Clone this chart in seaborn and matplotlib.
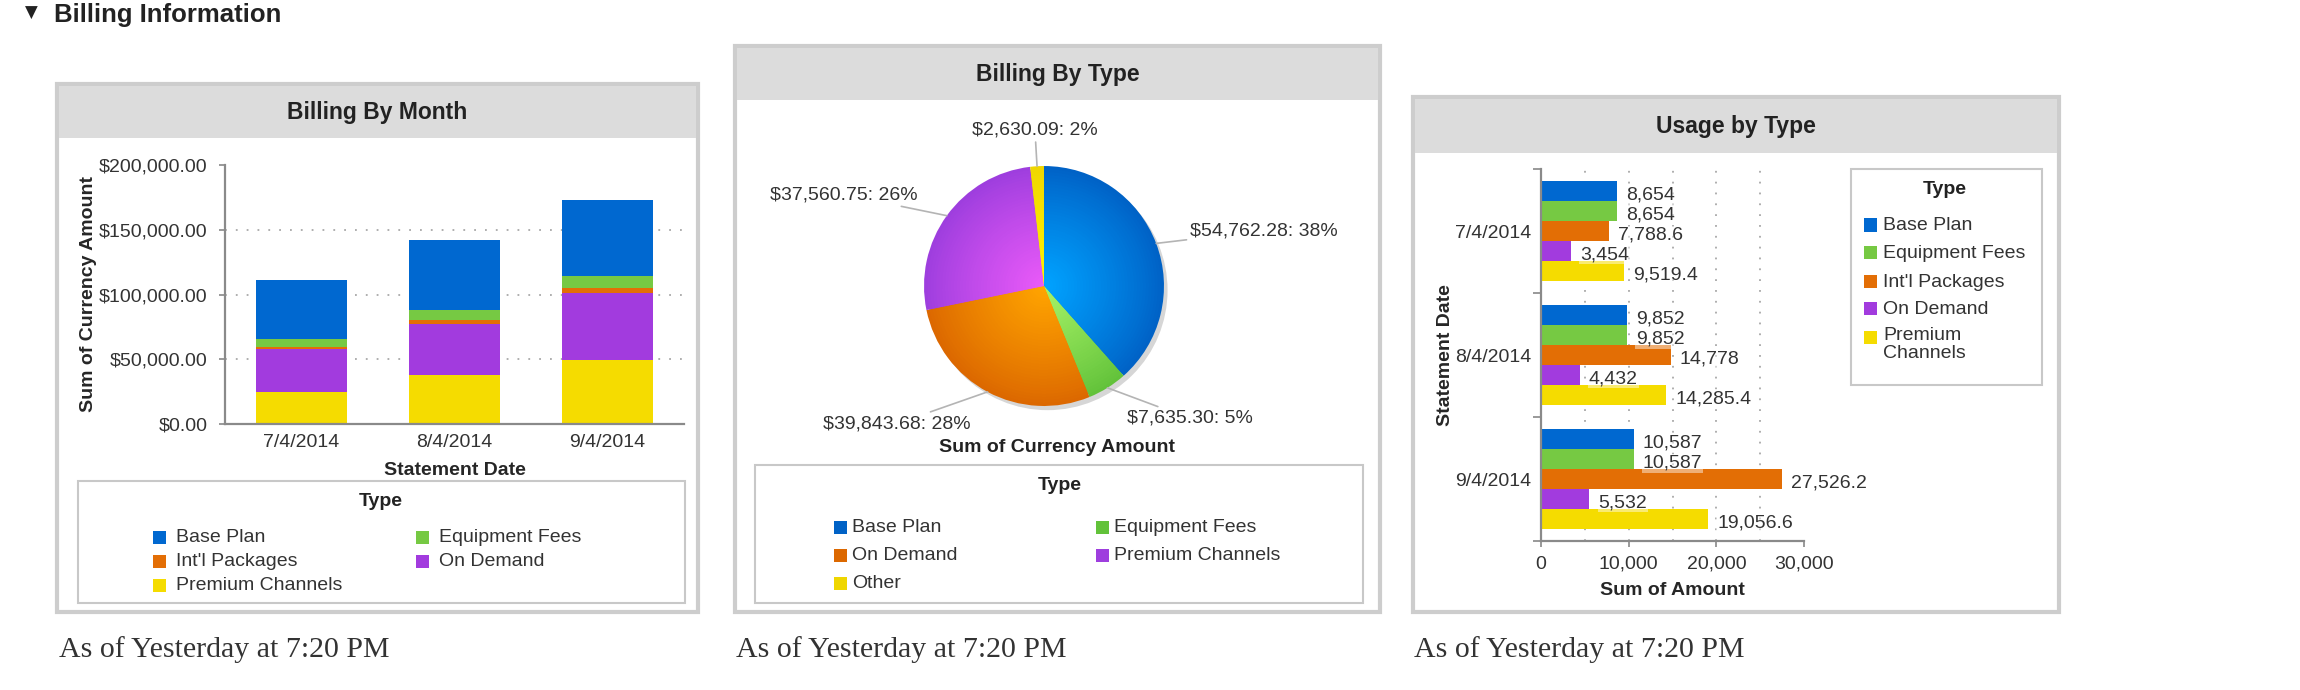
import numpy as np
import pandas as pd
import seaborn as sns
import matplotlib
matplotlib.use('Agg')
from matplotlib import pyplot as plt
from matplotlib.patches import Rectangle, Circle
import matplotlib.colors as mcolors

## data
dates = ['7/4/2014', '8/4/2014', '9/4/2014']

# billing by month, stacked bottom to top
premium_channels = [24800, 37560.75, 49600]
on_demand = [33000, 39843.68, 51400]
intl_packages = [1800, 2630.09, 3900]
equipment_fees = [5900, 7635.30, 9500]
base_plan = [45800, 54762.28, 58600]

# billing by type
pie_types = ['Base Plan', 'Equipment Fees', 'On Demand', 'Premium Channels', 'Other']
pie_amounts = [54762.28, 7635.30, 39843.68, 37560.75, 2630.09]

# usage by type
usage_types = ['Base Plan', 'Equipment Fees', "Int'l Packages", 'On Demand', 'Premium Channels']
usage_base = [8654, 9852, 10587]
usage_equipment = [8654, 9852, 10587]
usage_intl = [7788.6, 14778, 27526.2]
usage_on_demand = [3454, 4432, 5532]
usage_premium = [9519.4, 14285.4, 19056.6]

BLUE, GREEN, ORANGE, PURPLE, YELLOW = '#0068d0', '#76c943', '#e36e05', '#a23bde', '#f5dc00'
type_colors = {'Base Plan': BLUE, 'Equipment Fees': GREEN, "Int'l Packages": ORANGE,
               'On Demand': PURPLE, 'Premium Channels': YELLOW}
# pie uses its own colour mapping (edge, centre) for the shaded look
pie_shades = {'Base Plan': ('#0062c6', '#00a2ff'), 'Equipment Fees': ('#62c23a', '#a6f266'),
              'On Demand': ('#dc6800', '#ffa400'), 'Premium Channels': ('#9e3ede', '#e95af8'),
              'Other': ('#efd600', '#fff200')}

sns.set_style('white')
plt.rcParams['font.family'] = ['Liberation Sans', 'DejaVu Sans']
plt.rcParams['text.color'] = '#222222'

W, H = 2300, 690
fig = plt.figure(figsize=(23, 6.9), dpi=100)


def px_axes(l, t, r, b):
    return fig.add_axes([l / W, 1 - b / H, (r - l) / W, (b - t) / H])


def rect(l, t, r, b, z=-5, **kw):
    fig.add_artist(Rectangle((l / W, 1 - b / H), (r - l) / W, (b - t) / H,
                             transform=fig.transFigure, zorder=z, **kw))


def ftext(x, y, s, **kw):
    return fig.text(x / W, 1 - y / H, s, **kw)


def panel(l, t, r, b, band_b, title):
    rect(l, t, r, b, facecolor='white', edgecolor='#cdcdcd', linewidth=3)
    rect(l + 2, t + 2, r - 2, band_b, facecolor='#dcdcdc', edgecolor='none', z=-4.5)
    ftext((l + r) / 2, (t + band_b) / 2 + 1, title, ha='center', va='center',
          fontsize=16.5, weight='bold')


def legend_box(l, t, r, b, title_x, title_y, entries, gap, size=14):
    rect(l, t, r, b, facecolor='white', edgecolor='#c8c8c8', linewidth=1.5, z=-4)
    ftext(title_x, title_y, 'Type', ha='center', va='center', fontsize=size, weight='bold')
    for x, y, name, col in entries:
        rect(x, y - 6.5, x + 13, y + 6.5, facecolor=col, edgecolor='none', z=-3)
        ftext(x + gap, y + 1, name, ha='left', va='center', fontsize=size,
              color='#333333', linespacing=1.1)


def mix(a, b, f):
    return tuple(np.array(mcolors.to_rgb(a)) * (1 - f) + np.array(mcolors.to_rgb(b)) * f)


## header
ftext(25, 13, '\u25BC', family=['DejaVu Sans'], fontsize=12, va='center', ha='left')
ftext(54, 22, 'Billing Information', fontsize=18.5, weight='bold', va='baseline', ha='left')

## panels
panel(57, 84, 698, 612, 138, 'Billing By Month')
panel(735, 46, 1380, 612, 100, 'Billing By Type')
panel(1413, 97, 2059, 612, 153, 'Usage by Type')

for x in (59, 736, 1414):
    ftext(x, 657, 'As of Yesterday at 7:20 PM', family=['Liberation Serif'], fontsize=21.5,
          color='#333333', va='baseline', ha='left')

## billing by month (stacked bars from cumulative overlays)
df1 = pd.DataFrame({'date': dates, 'Premium Channels': premium_channels, 'On Demand': on_demand,
                    "Int'l Packages": intl_packages, 'Equipment Fees': equipment_fees,
                    'Base Plan': base_plan})
stack_order = ['Premium Channels', 'On Demand', "Int'l Packages", 'Equipment Fees', 'Base Plan']
cum = df1[stack_order].cumsum(axis=1)
cum['date'] = df1['date']

ax1 = px_axes(225, 165, 684, 424)
for name in reversed(stack_order):
    sns.barplot(data=cum, x='date', y=name, color=type_colors[name], width=0.59,
                saturation=1, errorbar=None, linewidth=0, ax=ax1)
ax1.set_ylim(0, 200000)
ax1.set_xlim(-0.5, 2.5)
ax1.set_yticks(np.arange(0, 200001, 50000))
ax1.yaxis.set_major_formatter(matplotlib.ticker.FuncFormatter(lambda v, p: '${:,.2f}'.format(v)))
ax1.set_axisbelow(True)
ax1.grid(axis='y', linestyle=(0, (1, 5)), color='#a8a8a8', linewidth=1.3)
ax1.get_ygridlines()[-1].set_visible(False)
ax1.get_ygridlines()[0].set_visible(False)
ax1.set_xticks([-0.5, 0.5, 1.5, 2.5], minor=True)
ax1.tick_params(axis='x', which='major', length=0, pad=7, labelsize=14, labelcolor='#333333')
ax1.tick_params(axis='x', which='minor', length=4.5, width=1.2, color='#888888', direction='out')
ax1.tick_params(axis='y', which='major', length=4.5, width=1.2, color='#888888', direction='out',
                pad=8, labelsize=14, labelcolor='#333333', left=True)
for s in ['top', 'right']:
    ax1.spines[s].set_visible(False)
for s in ['left', 'bottom']:
    ax1.spines[s].set_color('#8a8a8a')
    ax1.spines[s].set_linewidth(1.6)
ax1.set_xlabel('Statement Date', fontsize=14, weight='bold', va='center')
ax1.xaxis.set_label_coords(0.501, -0.178)
ax1.set_ylabel('Sum of Currency Amount', fontsize=14, weight='bold', va='center')
ax1.yaxis.set_label_coords(-0.298, 0.5)

legend_box(78, 481, 685, 603, 381, 502,
           [(153, 537, 'Base Plan', BLUE), (416, 537, 'Equipment Fees', GREEN),
            (153, 561, "Int'l Packages", ORANGE), (416, 561, 'On Demand', PURPLE),
            (153, 585, 'Premium Channels', YELLOW)], gap=23)

## billing by type (pie with radial shading)
ax2 = px_axes(844, 86, 1244, 486)
ax2.add_patch(Circle((0.03, -0.035), 1.0, facecolor='black', alpha=0.16, linewidth=0))
n_layers = 40
first = None
for k in range(n_layers):
    f = k / (n_layers - 1)
    cols = [mix(pie_shades[t][0], pie_shades[t][1], f ** 0.9) for t in pie_types]
    wedges, _ = ax2.pie(pie_amounts, radius=1 - 0.97 * f, colors=cols, startangle=90,
                        counterclock=False, wedgeprops=dict(linewidth=0))
    if first is None:
        first = wedges
ax2.set_xlim(-1.667, 1.667)
ax2.set_ylim(-1.667, 1.667)
ax2.set_aspect('equal')
ax2.axis('off')

total = sum(pie_amounts)
for w, v in zip(first, pie_amounts):
    th = np.deg2rad((w.theta1 + w.theta2) / 2)
    c, s = np.cos(th), np.sin(th)
    ha = 'left' if c > 0.2 else ('right' if c < -0.2 else 'center')
    ax2.annotate('${:,.2f}: {:.0f}%'.format(v, v / total * 100), xy=(c, s),
                 xytext=(1.3 * c, 1.3 * s), ha=ha, va='center', fontsize=14, color='#333333',
                 arrowprops=dict(arrowstyle='-', color='#b4b4b4', lw=1.2, shrinkA=0, shrinkB=0))
ftext(1057, 448, 'Sum of Currency Amount', ha='center', va='center', fontsize=14, weight='bold')

legend_box(755, 465, 1363, 603, 1060, 486,
           [(834, 527, 'Base Plan', pie_shades['Base Plan'][0]),
            (1096, 527, 'Equipment Fees', pie_shades['Equipment Fees'][0]),
            (834, 555, 'On Demand', pie_shades['On Demand'][0]),
            (1096, 555, 'Premium Channels', pie_shades['Premium Channels'][0]),
            (834, 583, 'Other', pie_shades['Other'][0])], gap=18)

## usage by type (grouped horizontal bars)
usage = {'Base Plan': usage_base, 'Equipment Fees': usage_equipment, "Int'l Packages": usage_intl,
         'On Demand': usage_on_demand, 'Premium Channels': usage_premium}
df3 = pd.DataFrame([(d, t, usage[t][i]) for t in usage_types for i, d in enumerate(dates)],
                   columns=['date', 'type', 'amount'])

ax3 = px_axes(1541, 169, 1804, 541)
sns.barplot(data=df3, x='amount', y='date', hue='type', hue_order=usage_types, order=dates,
            palette=type_colors, orient='h', width=0.8, saturation=1, errorbar=None,
            linewidth=0, legend=False, ax=ax3)
ax3.set_xlim(0, 30000)
ax3.set_ylim(2.5, -0.5)
for v in range(5000, 30000, 5000):
    ax3.axvline(v, color='#a8a8a8', linestyle=(0, (1, 5)), linewidth=1.3, zorder=0.5)
ax3.set_xticks([0, 10000, 20000, 30000])
ax3.set_xticklabels(['{:,.0f}'.format(v) for v in [0, 10000, 20000, 30000]])
ax3.set_yticks([-0.5, 0.5, 1.5, 2.5], minor=True)
ax3.tick_params(axis='y', which='major', length=0, pad=7, labelsize=14, labelcolor='#333333')
ax3.tick_params(axis='y', which='minor', length=5.5, width=1.2, color='#888888', direction='out', left=True)
ax3.tick_params(axis='x', which='major', length=4.5, width=1.2, color='#888888', direction='out',
                pad=6, labelsize=14, labelcolor='#333333', bottom=True)
for s in ['top', 'right']:
    ax3.spines[s].set_visible(False)
for s in ['left', 'bottom']:
    ax3.spines[s].set_color('#8a8a8a')
    ax3.spines[s].set_linewidth(1.6)

for p in ax3.patches:
    v = p.get_width()
    txt = '{:,.0f}'.format(v) if float(v).is_integer() else '{:,.1f}'.format(v)
    ax3.annotate(txt, (v, p.get_y() + p.get_height() / 2), xytext=(6.5, -3),
                 textcoords='offset points', ha='left', va='center', fontsize=14, color='#333333',
                 bbox=dict(boxstyle='square,pad=0.05', facecolor='white', edgecolor='none', alpha=0.45))

ax3.set_xlabel('Sum of Amount', fontsize=14, weight='bold', va='center')
ax3.xaxis.set_label_coords(0.498, -0.134)
ax3.set_ylabel('Statement Date', fontsize=14, weight='bold', va='center')
ax3.yaxis.set_label_coords(-0.365, 0.5)

legend_box(1851, 169, 2042, 385, 1945, 190,
           [(1864, 225, 'Base Plan', BLUE), (1864, 253, 'Equipment Fees', GREEN),
            (1864, 281, "Int'l Packages", ORANGE), (1864, 308, 'On Demand', PURPLE)], gap=19)
rect(1864, 337 - 6.5, 1877, 337 + 6.5, facecolor=YELLOW, edgecolor='none', z=-3)
ftext(1883, 327, 'Premium\nChannels', ha='left', va='top', fontsize=14, color='#333333',
      linespacing=1.1)

fig.savefig('out.png', dpi=100, facecolor='white')
